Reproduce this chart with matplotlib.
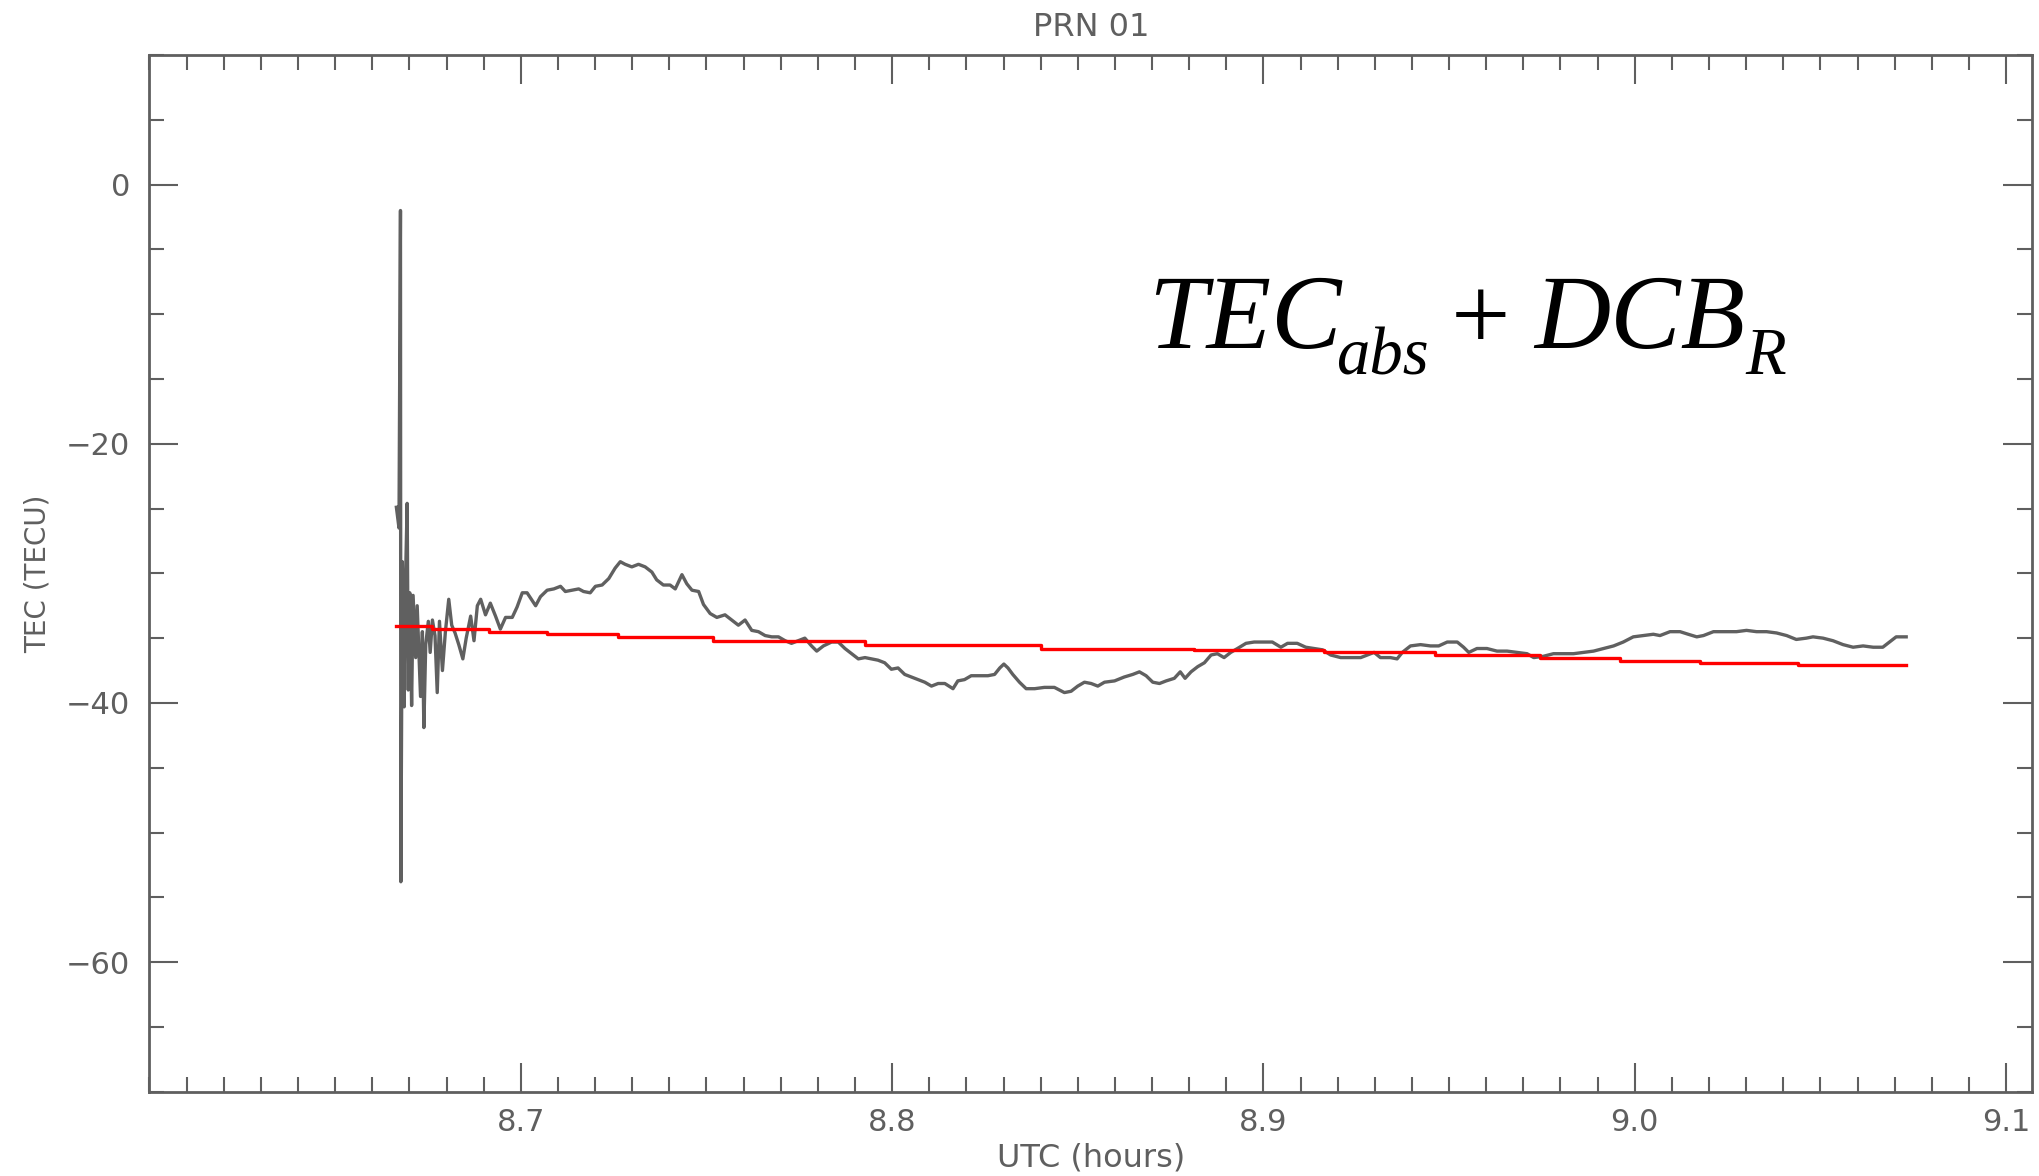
import matplotlib
matplotlib.use("Agg")
import matplotlib.pyplot as plt
from matplotlib.ticker import MultipleLocator, FixedLocator

# grey series: TEC_abs + DCB_R (hours UTC, TECU)
tec_x = [
    8.6665, 8.6672, 8.6676, 8.6677, 8.6681, 8.6686, 8.6690, 8.6694, 8.6697, 8.6701,
    8.6706, 8.6710, 8.6717, 8.6721, 8.6730, 8.6735, 8.6739, 8.6744, 8.6751, 8.6756,
    8.6762, 8.6769, 8.6775, 8.6781, 8.6789, 8.6797, 8.6806, 8.6814, 8.6823, 8.6833,
    8.6844, 8.6853, 8.6865, 8.6874, 8.6883, 8.6892, 8.6905, 8.6918, 8.6932, 8.6945,
    8.6959, 8.6977, 8.6990, 8.7004, 8.7017, 8.7031, 8.7040, 8.7053, 8.7071, 8.7089,
    8.7107, 8.7120, 8.7138, 8.7156, 8.7169, 8.7187, 8.7201, 8.7219, 8.7237, 8.7254,
    8.7268, 8.7281, 8.7299, 8.7317, 8.7335, 8.7353, 8.7366, 8.7384, 8.7402, 8.7416,
    8.7434, 8.7447, 8.7461, 8.7479, 8.7492, 8.7510, 8.7528, 8.7550, 8.7568, 8.7586,
    8.7604, 8.7622, 8.7640, 8.7658, 8.7676, 8.7694, 8.7712, 8.7729, 8.7747, 8.7765,
    8.7783, 8.7797, 8.7815, 8.7837, 8.7855, 8.7873, 8.7891, 8.7909, 8.7927, 8.7944,
    8.7962, 8.7980, 8.7998, 8.8016, 8.8034, 8.8052, 8.8070, 8.8088, 8.8106, 8.8124,
    8.8142, 8.8164, 8.8177, 8.8195, 8.8213, 8.8236, 8.8258, 8.8276, 8.8290, 8.8301,
    8.8312, 8.8325, 8.8343, 8.8361, 8.8384, 8.8410, 8.8437, 8.8464, 8.8482, 8.8500,
    8.8518, 8.8536, 8.8554, 8.8572, 8.8599, 8.8625, 8.8648, 8.8666, 8.8684, 8.8702,
    8.8720, 8.8738, 8.8760, 8.8776, 8.8789, 8.8805, 8.8823, 8.8841, 8.8859, 8.8876,
    8.8894, 8.8912, 8.8930, 8.8953, 8.8975, 8.9002, 8.9024, 8.9047, 8.9065, 8.9091,
    8.9114, 8.9136, 8.9159, 8.9181, 8.9208, 8.9235, 8.9262, 8.9280, 8.9298, 8.9315,
    8.9342, 8.9360, 8.9374, 8.9396, 8.9423, 8.9450, 8.9472, 8.9495, 8.9522, 8.9539,
    8.9553, 8.9575, 8.9602, 8.9629, 8.9656, 8.9683, 8.9710, 8.9728, 8.9754, 8.9781,
    8.9808, 8.9835, 8.9862, 8.9889, 8.9916, 8.9943, 8.9969, 8.9996, 9.0023, 9.0050,
    9.0068, 9.0095, 9.0122, 9.0144, 9.0167, 9.0185, 9.0212, 9.0247, 9.0274, 9.0301,
    9.0328, 9.0355, 9.0382, 9.0409, 9.0435, 9.0462, 9.0480, 9.0507, 9.0534, 9.0561,
    9.0588, 9.0615, 9.0642, 9.0668, 9.0686, 9.0704, 9.0731,
]
tec_y = [
    -24.9, -26.5, -2.0, -53.8, -29.1, -40.3, -30.0, -24.6, -39.0, -31.5,
    -40.2, -31.7, -36.5, -32.5, -39.5, -34.5, -41.9, -35.5, -33.7, -36.1,
    -33.6, -34.8, -39.2, -33.7, -37.5, -34.5, -32.0, -34.0, -34.6, -35.5,
    -36.6, -35.0, -33.3, -35.2, -32.5, -32.0, -33.2, -32.3, -33.3, -34.3,
    -33.4, -33.4, -32.6, -31.5, -31.5, -32.1, -32.5, -31.8, -31.3, -31.2,
    -31.0, -31.4, -31.3, -31.2, -31.4, -31.5, -31.0, -30.9, -30.4, -29.6,
    -29.1, -29.3, -29.5, -29.3, -29.5, -29.9, -30.5, -30.9, -30.9, -31.2,
    -30.1, -30.8, -31.3, -31.4, -32.4, -33.1, -33.4, -33.2, -33.6, -34.0,
    -33.6, -34.4, -34.5, -34.8, -34.9, -34.9, -35.2, -35.4, -35.2, -35.0,
    -35.6, -36.0, -35.6, -35.3, -35.3, -35.8, -36.2, -36.6, -36.5, -36.6,
    -36.7, -36.9, -37.4, -37.3, -37.8, -38.0, -38.2, -38.4, -38.7, -38.5,
    -38.5, -38.9, -38.3, -38.2, -37.9, -37.9, -37.9, -37.8, -37.3, -37.0,
    -37.3, -37.8, -38.4, -38.9, -38.9, -38.8, -38.8, -39.2, -39.1, -38.7,
    -38.4, -38.5, -38.7, -38.4, -38.3, -38.0, -37.8, -37.6, -37.9, -38.4,
    -38.5, -38.3, -38.1, -37.6, -38.1, -37.6, -37.2, -36.9, -36.3, -36.2,
    -36.5, -36.1, -35.8, -35.4, -35.3, -35.3, -35.3, -35.7, -35.4, -35.4,
    -35.7, -35.8, -35.9, -36.3, -36.5, -36.5, -36.5, -36.3, -36.1, -36.5,
    -36.5, -36.6, -36.1, -35.6, -35.5, -35.6, -35.6, -35.3, -35.3, -35.7,
    -36.1, -35.8, -35.8, -36.0, -36.0, -36.1, -36.2, -36.5, -36.4, -36.2,
    -36.2, -36.2, -36.1, -36.0, -35.8, -35.6, -35.3, -34.9, -34.8, -34.7,
    -34.8, -34.5, -34.5, -34.7, -34.9, -34.8, -34.5, -34.5, -34.5, -34.4,
    -34.5, -34.5, -34.6, -34.8, -35.1, -35.0, -34.9, -35.0, -35.2, -35.5,
    -35.7, -35.6, -35.7, -35.7, -35.3, -34.9, -34.9,
]

# red stepped reference line
ref_x = [8.6665, 8.6762, 8.6914, 8.7071, 8.7263, 8.7519, 8.7927, 8.8401,
         8.8814, 8.9163, 8.9463, 8.9746, 8.9960, 9.0176, 9.0440, 9.0731]
ref_y = [-34.1, -34.3, -34.5, -34.7, -34.9, -35.2, -35.55, -35.8,
         -35.95, -36.1, -36.3, -36.5, -36.75, -36.9, -37.1, -37.1]

x_major = [8.7, 8.8, 8.9, 9.0, 9.1]
x_labels = ["8.7", "8.8", "8.9", "9.0", "9.1"]
y_major = [0, -20, -40, -60]
y_labels = ["0", "\u221220", "\u221240", "\u221260"]

GREY = "#5f5f5f"
FONT = ["Liberation Sans Narrow", "DejaVu Sans"]
SERIF = ["Liberation Serif", "DejaVu Serif"]

plt.rcParams["font.family"] = FONT

W, H = 2039, 1176
fig = plt.figure(figsize=(W / 100, H / 100), dpi=100)
ax = fig.add_axes([0.0733, 0.0717, 0.9233, 0.8815])

ax.plot(tec_x, tec_y, color="#606060", lw=2.4)
ax.step(ref_x, ref_y, where="post", color="red", lw=2.4)

ax.set_xlim(8.6, 9.107)
ax.set_ylim(-70, 10)

ax.xaxis.set_major_locator(FixedLocator(x_major))
ax.set_xticklabels(x_labels)
ax.xaxis.set_minor_locator(MultipleLocator(0.01))
ax.yaxis.set_major_locator(FixedLocator(y_major))
ax.set_yticklabels(y_labels)
ax.yaxis.set_minor_locator(MultipleLocator(5))

ax.tick_params(which="both", direction="in", top=True, right=True,
               color=GREY, width=1.5, labelcolor=GREY, labelsize=22)
ax.tick_params(which="major", length=21)
ax.tick_params(which="minor", length=11)
ax.tick_params(axis="x", pad=12)
ax.tick_params(axis="y", pad=14)
for sp in ax.spines.values():
    sp.set_color(GREY)
    sp.set_linewidth(2)

ax.set_title("PRN 01", color=GREY, fontsize=23, pad=14)
ax.set_xlabel("UTC (hours)", color=GREY, fontsize=23, labelpad=4)
ax.set_ylabel("TEC (TECU)", color=GREY, fontsize=20, labelpad=10)


# formula annotation, placed piece by piece in figure pixels
def put(px, py, s, size, style="italic", ha="left"):
    fig.text(px / W, 1 - py / H, s, fontsize=size, family=SERIF,
             style=style, ha=ha, va="baseline", color="black")


put(1148, 348, "TEC", 76)
put(1336, 374, "abs", 48)
put(1481, 350, "+", 76, style="normal", ha="center")
put(1534, 348, "DCB", 76)
put(1745, 374, "R", 48)

fig.savefig("out.png", dpi=100)
